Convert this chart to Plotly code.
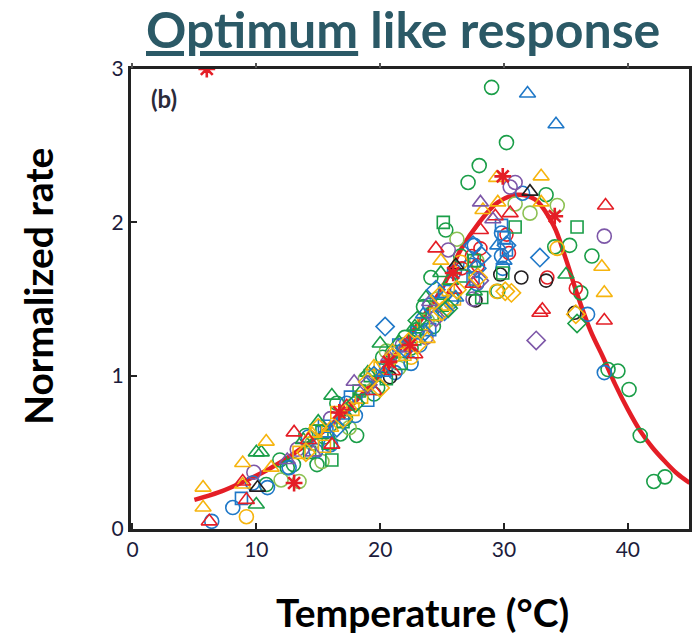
import plotly.graph_objects as go

# ---- fitted curve ----
curve_x = [5, 7, 9, 11, 13, 15, 17, 19, 21, 23, 25, 26.5, 28, 29.5, 31, 32.5, 34, 35, 36, 37, 38, 39, 40, 41, 42, 43, 44, 45]
curve_y = [0.19, 0.24, 0.31, 0.39, 0.49, 0.61, 0.75, 0.92, 1.11, 1.33, 1.57, 1.82, 2.0, 2.13, 2.18, 2.15, 1.98, 1.76, 1.51, 1.29, 1.12, 0.94, 0.78, 0.64, 0.53, 0.44, 0.36, 0.30]

# ---- observations ----
green_circle_x = [29.0, 30.2, 28.0, 27.1, 33.4, 25.3, 24.1, 29.5, 35.3, 34.1, 37.1, 36.2, 38.4, 39.2, 40.1, 41.0, 42.1, 43.0, 18.1, 14.0, 11.9, 10.8, 14.9, 16.5, 19.5, 21.0, 22.5, 23.5, 25.8, 26.5, 15.5, 17.2, 12.5, 20.2, 23.0, 13.0, 16.8, 19.8, 22.0, 24.3]
green_circle_y = [2.88, 2.52, 2.37, 2.26, 2.18, 1.95, 1.64, 1.55, 1.85, 1.84, 1.78, 1.54, 1.04, 1.03, 0.91, 0.61, 0.31, 0.34, 0.61, 0.61, 0.45, 0.29, 0.42, 0.82, 0.88, 1.15, 1.18, 1.45, 1.50, 1.78, 0.60, 0.72, 0.40, 1.12, 1.30, 0.42, 0.62, 0.92, 1.25, 1.32]
lgreen_circle_x = [34.3, 32.1, 26.2, 13.45, 30.9, 15.3, 24.6, 27.8, 21.5, 18.8, 12.0, 17.5, 14.5, 20.5, 23.8]
lgreen_circle_y = [2.11, 2.06, 1.89, 0.31, 2.12, 0.44, 1.50, 1.75, 1.05, 0.98, 0.32, 0.66, 0.56, 1.16, 1.36]
blue_circle_x = [6.4, 8.1, 10.9, 12.65, 14.8, 31.5, 36.75, 38.1, 27.3, 27.8, 27.6, 29.8, 29.8, 16.0, 18.0, 20.5, 22.5, 24.0, 25.7, 9.7, 14.2, 17.3, 21.2, 23.2, 26.0, 29.9]
blue_circle_y = [0.05, 0.14, 0.27, 0.40, 0.51, 2.19, 1.40, 1.02, 1.72, 1.60, 1.85, 1.93, 1.78, 0.55, 0.74, 1.06, 1.08, 1.46, 1.48, 0.30, 0.60, 0.82, 1.02, 1.20, 1.68, 1.70]
red_circle_x = [27.9, 28.1, 33.5, 35.8, 30.4, 30.2, 26.6, 27.4]
red_circle_y = [1.72, 1.83, 1.64, 1.57, 1.80, 1.92, 1.70, 1.78]
black_circle_x = [27.7, 29.7, 31.4, 33.4, 35.7, 20.8]
black_circle_y = [1.49, 1.66, 1.64, 1.62, 1.41, 0.99]
purple_circle_x = [30.9, 30.5, 38.1, 25.5, 9.8, 13.3, 27.5, 21.8, 16.0, 23.7]
purple_circle_y = [2.26, 2.23, 1.91, 1.82, 0.37, 0.52, 1.50, 1.20, 0.72, 1.25]
yellow_circle_x = [9.2, 26.5, 34.3, 29.4, 22.5]
yellow_circle_y = [0.08, 1.74, 1.83, 1.55, 1.12]

green_tri_x = [10.0, 10.4, 10.0, 20.0, 23.7, 35.0, 24.9, 16.1, 27.6, 19.0, 13.8, 22.8, 15.0, 18.5, 21.5, 25.7]
green_tri_y = [0.50, 0.50, 0.16, 1.21, 1.51, 1.66, 1.67, 0.87, 1.55, 1.02, 0.58, 1.32, 0.70, 0.90, 1.22, 1.62]
yellow_tri_x = [5.7, 5.7, 8.9, 8.9, 10.8, 11.2, 29.4, 29.5, 28.3, 33.0, 33.0, 37.9, 38.1, 24.9, 17.5, 21.0, 23.8, 14.5, 16.0, 19.5, 25.3]
yellow_tri_y = [0.27, 0.14, 0.43, 0.29, 0.57, 0.40, 2.29, 2.13, 2.08, 2.30, 2.13, 1.71, 1.54, 1.75, 0.80, 1.16, 1.24, 0.62, 0.66, 1.06, 1.45]
red_tri_x = [6.2, 8.9, 9.2, 13.05, 16.1, 24.5, 29.3, 30.5, 38.2, 32.9, 38.1, 33.1, 22.8, 26.0, 27.5, 19.5, 28.1, 14.2, 17.3, 21.0]
red_tri_y = [0.05, 0.31, 0.19, 0.63, 0.55, 1.83, 2.04, 2.06, 2.11, 1.41, 1.36, 1.43, 1.14, 1.56, 1.60, 0.90, 1.95, 0.58, 0.80, 1.03]
blue_tri_x = [31.9, 34.2, 26.1, 23.5, 30.0, 29.5, 20.3, 17.0]
blue_tri_y = [2.84, 2.64, 1.51, 1.40, 1.75, 1.85, 1.02, 0.74]
purple_tri_x = [28.1, 29.1, 17.9, 22.0, 12.5, 14.6, 20.7, 24.0]
purple_tri_y = [2.13, 2.02, 0.96, 1.18, 0.45, 0.50, 1.12, 1.48]
black_tri_x = [32.1, 26.1, 10.1]
black_tri_y = [2.20, 1.72, 0.27]

green_sq_x = [25.1, 30.9, 35.9, 28.2, 29.9, 16.1, 15.3, 18.3, 20.5, 22.8, 25.0, 26.7, 14.3, 27.6, 17.0, 19.2, 21.7, 24.2, 15.8]
green_sq_y = [2.00, 1.97, 1.97, 1.51, 1.67, 0.45, 0.63, 0.90, 0.98, 1.24, 1.46, 1.65, 0.50, 1.75, 0.70, 1.00, 1.08, 1.40, 0.56]
blue_sq_x = [8.8, 15.5, 30.0, 29.8, 30.2, 27.5, 21.5, 24.0, 17.6, 15.7, 19.0, 23.0, 25.2]
blue_sq_y = [0.20, 0.67, 1.90, 1.98, 1.82, 1.63, 1.20, 1.30, 0.86, 0.64, 0.84, 1.28, 1.55]
yellow_sq_x = [13.45, 20.0, 24.5, 22.0, 16.5, 26.0, 18.5, 14.8, 15.5, 17.8, 23.5, 25.5]
yellow_sq_y = [0.50, 1.05, 1.40, 1.14, 0.76, 1.50, 0.86, 0.64, 0.54, 0.78, 1.34, 1.56]

blue_dia_x = [20.4, 32.9, 27.5, 27.8, 28.2, 23.5, 25.2, 30.2, 19.5, 16.5, 22.0, 24.5]
blue_dia_y = [1.32, 1.77, 1.85, 1.70, 1.78, 1.28, 1.42, 1.85, 1.00, 0.66, 1.18, 1.56]
purple_dia_x = [32.6, 24.5, 28.0, 19.0]
purple_dia_y = [1.23, 1.38, 1.62, 0.94]
yellow_dia_x = [27.9, 30.1, 30.6, 35.8, 23.0, 24.8, 21.0, 17.0, 19.0, 26.2, 15.0, 14.0, 20.0, 22.3, 25.0]
yellow_dia_y = [1.64, 1.55, 1.54, 1.40, 1.20, 1.52, 1.12, 0.72, 0.96, 1.56, 0.66, 0.50, 0.92, 1.22, 1.42]
green_dia_x = [35.9, 23.0, 25.5, 18.0]
green_dia_y = [1.34, 1.36, 1.44, 0.82]

red_star_x = [6.0, 13.05, 16.7, 20.7, 25.9, 29.9, 34.1, 22.4]
red_star_y = [3.0, 0.30, 0.76, 1.09, 1.67, 2.30, 2.04, 1.20]

x_ticks = [0, 10, 20, 30, 40]
y_ticks = [0, 1, 2, 3]

GREEN = "#1a9e48"
LGREEN = "#8cc152"
BLUE = "#1f78c8"
RED = "#e41e26"
YELLOW = "#f6b40e"
PURPLE = "#7d57a8"
BLACK = "#231f20"

series = [
    (green_circle_x, green_circle_y, GREEN, "circle-open", 14),
    (lgreen_circle_x, lgreen_circle_y, LGREEN, "circle-open", 14),
    (blue_circle_x, blue_circle_y, BLUE, "circle-open", 14),
    (red_circle_x, red_circle_y, RED, "circle-open", 13),
    (black_circle_x, black_circle_y, BLACK, "circle-open", 13),
    (purple_circle_x, purple_circle_y, PURPLE, "circle-open", 14),
    (yellow_circle_x, yellow_circle_y, YELLOW, "circle-open", 14),
    (green_sq_x, green_sq_y, GREEN, "square-open", 12),
    (blue_sq_x, blue_sq_y, BLUE, "square-open", 12),
    (yellow_sq_x, yellow_sq_y, YELLOW, "square-open", 12),
    (green_tri_x, green_tri_y, GREEN, "triangle-up-open", 14),
    (yellow_tri_x, yellow_tri_y, YELLOW, "triangle-up-open", 14),
    (red_tri_x, red_tri_y, RED, "triangle-up-open", 14),
    (blue_tri_x, blue_tri_y, BLUE, "triangle-up-open", 14),
    (purple_tri_x, purple_tri_y, PURPLE, "triangle-up-open", 14),
    (black_tri_x, black_tri_y, BLACK, "triangle-up-open", 14),
    (blue_dia_x, blue_dia_y, BLUE, "diamond-open", 14),
    (purple_dia_x, purple_dia_y, PURPLE, "diamond-open", 14),
    (yellow_dia_x, yellow_dia_y, YELLOW, "diamond-open", 14),
    (green_dia_x, green_dia_y, GREEN, "diamond-open", 14),
    (red_star_x, red_star_y, RED, "asterisk-open", 14),
]

fig = go.Figure()

# fitted curve underneath the observations
fig.add_trace(go.Scatter(x=curve_x, y=curve_y, mode="lines",
                         line=dict(color=RED, width=4.5, shape="spline"),
                         showlegend=False, hoverinfo="skip"))

for xs, ys, col, sym, sz in series:
    fig.add_trace(go.Scatter(
        x=xs, y=ys, mode="markers",
        marker=dict(symbol=sym, size=sz, color=col,
                    line=dict(color=col, width=2.6 if sym == "asterisk-open" else 1.6)),
        showlegend=False, hoverinfo="skip"))

# invisible trace on top axis so top ticks are drawn
fig.add_trace(go.Scatter(x=[None], y=[None], xaxis="x2", yaxis="y",
                         showlegend=False, hoverinfo="skip"))

TICKFONT = dict(family="Lato, Open Sans, sans-serif", size=21, color="#1c1c3c")

fig.update_layout(
    width=693, height=637,
    margin=dict(l=131, r=1, t=69, b=108),
    paper_bgcolor="white", plot_bgcolor="white",
    xaxis=dict(range=[-0.12, 44.94], tickvals=x_ticks, ticks="inside", ticklen=6, tickwidth=2,
               tickcolor="#222", showline=True, linewidth=3, linecolor="#222",
               showgrid=False, zeroline=False, tickfont=TICKFONT, mirror=True),
    xaxis2=dict(range=[-0.12, 44.94], overlaying="x", side="top", anchor="y",
                tickvals=x_ticks, ticks="outside", ticklen=5, tickwidth=1.5,
                tickcolor="#555", showticklabels=False, showline=False,
                showgrid=False, zeroline=False),
    yaxis=dict(range=[0, 3.0], tickvals=y_ticks, ticks="inside", ticklen=6, tickwidth=2,
               tickcolor="#222", showline=True, linewidth=3, linecolor="#222",
               showgrid=False, zeroline=False, tickfont=TICKFONT, mirror=True),
    annotations=[
        dict(text="<b><u>Optimum</u> like response</b>", xref="paper", yref="paper",
             x=0.488, y=1.0, yshift=40, xanchor="center", yanchor="middle", showarrow=False,
             font=dict(family="Lato, sans-serif", size=50, color="#2b5966")),
        dict(text="<b>Normalized rate</b>", xref="paper", yref="paper",
             x=0, xshift=-93, y=0.5, yshift=12, textangle=-90, xanchor="center", yanchor="middle",
             showarrow=False, font=dict(family="Lato, sans-serif", size=39, color="black")),
        dict(text="<b>Temperature (°C)</b>", xref="paper", yref="paper",
             x=0.523, y=0, yshift=-83, xanchor="center", yanchor="middle",
             showarrow=False, font=dict(family="Lato, sans-serif", size=39, color="black")),
        dict(text="<b>(b)</b>", xref="paper", yref="paper",
             x=0.06, y=0.935, xanchor="center", yanchor="middle",
             showarrow=False, font=dict(family="Lato, sans-serif", size=24, color="#2a2a3a")),
    ],
)

fig.write_html("out.html")
